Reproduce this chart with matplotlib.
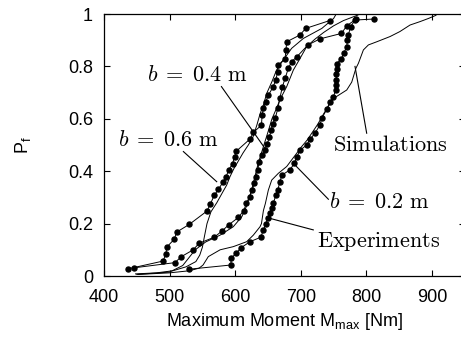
import numpy as np
import matplotlib
matplotlib.use("Agg")
import matplotlib.pyplot as plt

plt.rcParams["font.family"] = ["Liberation Sans", "DejaVu Sans"]
plt.rcParams["mathtext.fontset"] = "cm"

# -----------------------------------------------
# Experiments (dots)
# -----------------------------------------------
exp06_M = [436, 490, 494.5, 495.5, 507, 511, 530, 557, 562, 568, 574.5, 581, 586, 590, 596,
           599, 601.5, 622.6, 627.7, 640, 641, 643, 646.5, 650.5, 658, 661.7, 664.6, 665.6,
           676, 677.4, 678.5, 698.7, 707.4, 744]
exp06_P = [0.027, 0.057, 0.085, 0.11, 0.14, 0.168, 0.197, 0.248, 0.274, 0.308, 0.331, 0.357,
           0.378, 0.404, 0.429, 0.455, 0.476, 0.523, 0.548, 0.576, 0.614, 0.64, 0.665, 0.69,
           0.723, 0.748, 0.777, 0.805, 0.83, 0.863, 0.894, 0.92, 0.945, 0.975]

exp04_M = [445, 508, 518, 536, 545, 568, 580, 590, 605, 613, 617, 622, 626, 629, 632, 634,
           637, 641, 645, 649, 652, 655, 657, 661, 665, 668, 672, 676, 681, 686, 694, 711,
           729, 762, 770, 784]
exp04_P = [0.031, 0.051, 0.074, 0.1, 0.125, 0.148, 0.172, 0.195, 0.224, 0.25, 0.277, 0.303,
           0.328, 0.354, 0.379, 0.405, 0.436, 0.46, 0.48, 0.505, 0.53, 0.558, 0.58, 0.602,
           0.64, 0.678, 0.723, 0.754, 0.793, 0.818, 0.837, 0.882, 0.905, 0.926, 0.955, 0.98]

exp02_M = [530, 593.6, 593.6, 601, 609, 622.6, 639, 643, 647, 649.5, 653, 656, 658, 662,
           664.7, 668.3, 671, 683.5, 690, 693.6, 698.7, 709, 714, 721.6, 729, 732, 739.5,
           744.5, 749.6, 753, 753.7, 754, 754.3, 754.5, 754.7, 762, 766, 770, 771, 772.4,
           776, 782.6, 812]
exp02_P = [0.026, 0.042, 0.067, 0.086, 0.108, 0.131, 0.148, 0.176, 0.2, 0.22, 0.24, 0.26,
           0.277, 0.309, 0.328, 0.36, 0.385, 0.405, 0.43, 0.453, 0.48, 0.5, 0.522, 0.545,
           0.576, 0.602, 0.636, 0.665, 0.682, 0.71, 0.73, 0.75, 0.77, 0.79, 0.81, 0.83,
           0.853, 0.876, 0.9, 0.92, 0.952, 0.977, 0.981]

# -----------------------------------------------
# Simulations (thin lines)
# -----------------------------------------------
sim06_M = [448, 480, 505, 525, 540, 546, 550, 553, 557, 563, 572, 580, 587, 592, 598, 605,
           612, 620, 627, 633, 638, 643, 648, 656, 663, 672, 686, 704, 732, 750, 753]
sim06_P = [0.008, 0.012, 0.02, 0.035, 0.055, 0.08, 0.11, 0.15, 0.2, 0.245, 0.28, 0.316,
           0.347, 0.379, 0.41, 0.44, 0.47, 0.5, 0.53, 0.576, 0.62, 0.653, 0.697, 0.742,
           0.786, 0.82, 0.869, 0.907, 0.945, 0.983, 0.996]

sim04_M = [450, 500, 520, 539, 555, 577, 597, 610, 617, 625, 630, 635, 640, 645, 650, 656,
           663, 668, 678.5, 688.6, 698.7, 709, 722, 735, 750, 765, 787]
sim04_P = [0.006, 0.015, 0.04, 0.1, 0.13, 0.156, 0.188, 0.226, 0.265, 0.328, 0.379, 0.43,
           0.47, 0.51, 0.55, 0.6, 0.64, 0.672, 0.723, 0.786, 0.83, 0.876, 0.905, 0.93,
           0.955, 0.975, 0.996]

sim02_M = [452, 500, 530, 545, 551, 559, 577, 597, 617.5, 627.6, 637.8, 640, 643, 646,
           650.5, 655.6, 665.8, 678.5, 686, 693.6, 700, 710, 718, 726, 735, 745, 750, 770,
           777.6, 784, 787.8, 795.4, 803, 815.7, 836, 851, 866.5, 881.7, 894.5, 906]
sim02_P = [0.006, 0.012, 0.02, 0.03, 0.042, 0.074, 0.1, 0.112, 0.131, 0.156, 0.188, 0.2,
           0.25, 0.277, 0.328, 0.366, 0.392, 0.418, 0.443, 0.468, 0.49, 0.52, 0.55, 0.58,
           0.62, 0.66, 0.678, 0.71, 0.74, 0.793, 0.812, 0.863, 0.882, 0.894, 0.914, 0.933,
           0.958, 0.971, 0.983, 0.995]

x_ticks = [400, 500, 600, 700, 800, 900]
y_ticks = [0, 0.2, 0.4, 0.6, 0.8, 1]
y_ticklabels = ["0", "0.2", "0.4", "0.6", "0.8", "1"]

fig = plt.figure(figsize=(4.61, 3.37), dpi=100)
ax = fig.add_axes([0.2256, 0.181, 0.7827, 0.7774])

lw = 0.7
for M, P in [(sim06_M, sim06_P), (sim04_M, sim04_P), (sim02_M, sim02_P)]:
    ax.plot(M, P, color="black", lw=lw)
for M, P in [(exp06_M, exp06_P), (exp04_M, exp04_P), (exp02_M, exp02_P)]:
    ax.plot(M, P, color="black", lw=lw, marker="o", markersize=3.6)

ax.set_xlim(400, 950)
ax.set_ylim(0, 1)
ax.set_xticks(x_ticks)
ax.set_yticks(y_ticks)
ax.set_yticklabels(y_ticklabels)
ax.tick_params(direction="in", top=True, right=True, length=4, width=0.8,
               labelsize=13)
ax.tick_params(axis="x", pad=9)
ax.tick_params(axis="y", pad=8)
for s in ax.spines.values():
    s.set_linewidth(0.9)

ax.set_xlabel(r"Maximum Moment M$_\mathregular{max}$ [Nm]", fontsize=13, labelpad=4)
ax.set_ylabel(r"P$_\mathregular{f}$", fontsize=13, labelpad=24)

# annotations
fs = 16
ax.text(542, 0.765, r"$b\;=\;0.4\ \mathrm{m}$", fontsize=fs, ha="center", va="center")
ax.text(498, 0.516, r"$b\;=\;0.6\ \mathrm{m}$", fontsize=fs, ha="center", va="center")
ax.text(836, 0.497, r"$\mathrm{Simulations}$", fontsize=fs, ha="center", va="center")
ax.text(819, 0.28, r"$b\;=\;0.2\ \mathrm{m}$", fontsize=fs, ha="center", va="center")
ax.text(818, 0.131, r"$\mathrm{Experiments}$", fontsize=fs, ha="center", va="center")

leaders = [((579, 0.723), (645.4, 0.487)),
           ((521, 0.475), (571.8, 0.36)),
           ((782.6, 0.8), (800.4, 0.545)),
           ((691, 0.424), (742, 0.293)),
           ((653, 0.22), (719, 0.176))]
for (x0, y0), (x1, y1) in leaders:
    ax.plot([x0, x1], [y0, y1], color="black", lw=0.8)

fig.savefig("out.png", dpi=100)
